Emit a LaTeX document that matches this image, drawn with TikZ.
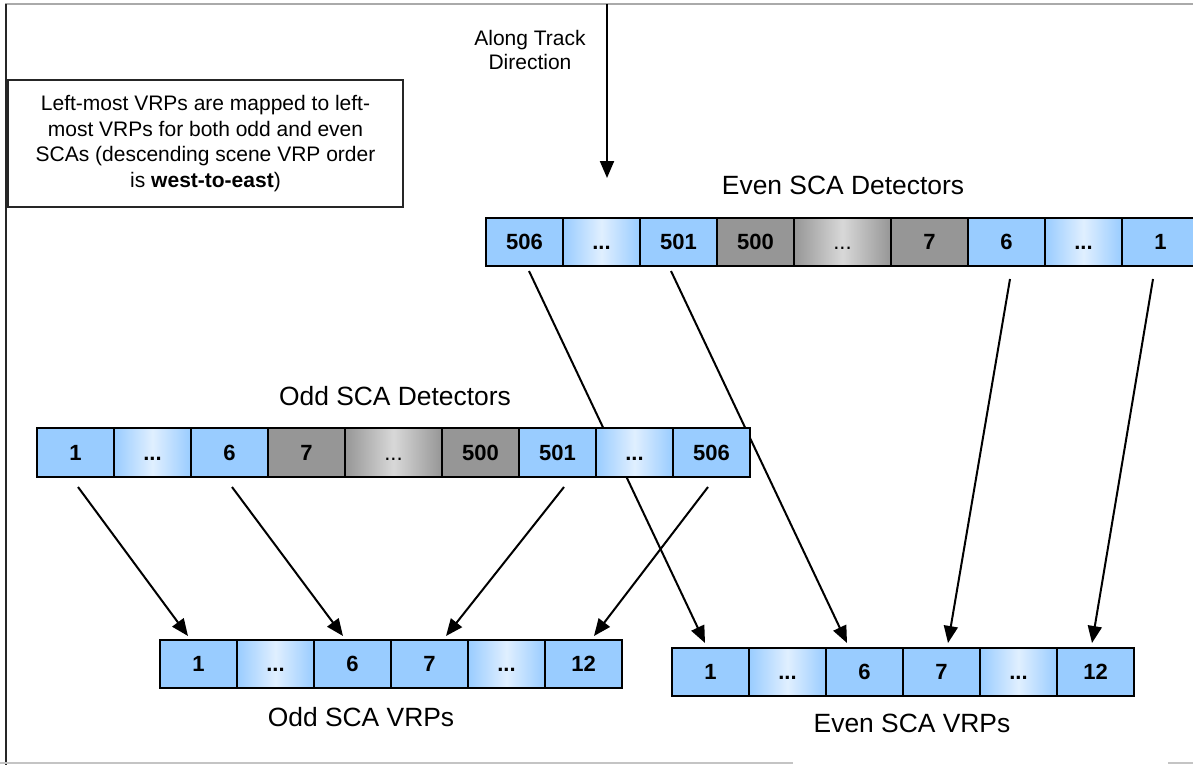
\documentclass[tikz,border=0pt]{standalone}
\usepackage{fontspec}
\setmainfont{Liberation Sans}
\usetikzlibrary{arrows.meta,calc,backgrounds}

\definecolor{cellblue}{RGB}{153,204,255}
\definecolor{cellpale}{RGB}{224,239,255}
\definecolor{cellgray}{RGB}{150,150,150}
\definecolor{cellpalegray}{RGB}{216,216,216}
\definecolor{framegray}{RGB}{170,170,170}

\tikzset{
  cell/.style={draw=black, line width=0.8pt, minimum width=38.5pt, minimum height=24pt,
    inner sep=0pt, outer sep=0pt, text height=7.9pt, text depth=0pt,
    font=\fontsize{11}{12}\selectfont\bfseries},
  widecell/.style={minimum width=48.5pt},
  bluecell/.style={fill=cellblue},
  bluefade/.style={left color=cellblue, right color=cellblue, middle color=cellpale},
  graycell/.style={fill=cellgray},
  grayfade/.style={left color=cellgray, right color=cellgray, middle color=cellpalegray},
  link/.style={line width=1pt, -{Triangle[length=8.5pt,width=7pt]}},
  title/.style={font=\fontsize{13.2}{15}\selectfont},
  note/.style={font=\fontsize{10.5}{12.75}\selectfont, align=center},
}

\begin{document}
\begin{tikzpicture}[x=0.5pt,y=-0.5pt]
\useasboundingbox (0,0) rectangle (1193,765);

% outer frame
\draw[framegray, line width=1pt] (5,4) -- (1193,4);
\draw[black!85, line width=1pt] (6,4) -- (6,765);
\draw[framegray!70, line width=1pt] (0,763) -- (793,763);
\draw[framegray!70, line width=1pt] (1168,763) -- (1193,763);

% explanatory note
\node[draw=black!85, line width=0.8pt, minimum width=197.5pt, minimum height=63.5pt,
      inner sep=0pt, note] (explain) at (205.5,143.5)
  {Left-most VRPs are mapped to left-\\most VRPs for both odd and even\\SCAs (descending scene VRP order\\is \textbf{west-to-east})};

% along-track direction
\node[note, font=\fontsize{10.5}{12}\selectfont] (along) at (530,50) {Along Track\\Direction};
\coordinate (trackstart) at (607,4);
\coordinate (trackend) at (607,178);
\draw[link] (trackstart) -- (trackend);

% even SCA detectors
\node[title] (evendetlabel) at (843,185) {Even SCA Detectors};
\node[cell,bluecell] (e506) at (524.5,242) {506};
\node[cell,bluefade] (edotsa) at (601.5,242) {...};
\node[cell,bluecell] (e501) at (678.5,242) {501};
\node[cell,graycell] (e500) at (755.5,242) {500};
\node[cell,grayfade,widecell] (edotsb) at (842.5,242) {\mdseries ...};
\node[cell,graycell] (e7) at (929.5,242) {7};
\node[cell,bluecell] (e6) at (1006.5,242) {6};
\node[cell,bluefade] (edotsc) at (1083.5,242) {...};
\node[cell,bluecell] (e1) at (1160.5,242) {1};

% odd SCA detectors
\node[title] (odddetlabel) at (395,396) {Odd SCA Detectors};
\node[cell,bluecell,minimum height=24.5pt] (o1) at (75.5,452.5) {1};
\node[cell,bluefade,minimum height=24.5pt] (odotsa) at (152.5,452.5) {...};
\node[cell,bluecell,minimum height=24.5pt] (o6) at (229.5,452.5) {6};
\node[cell,graycell,minimum height=24.5pt] (o7) at (306.5,452.5) {7};
\node[cell,grayfade,widecell,minimum height=24.5pt] (odotsb) at (393.5,452.5) {\mdseries ...};
\node[cell,graycell,minimum height=24.5pt] (o500) at (480.5,452.5) {500};
\node[cell,bluecell,minimum height=24.5pt] (o501) at (557.5,452.5) {501};
\node[cell,bluefade,minimum height=24.5pt] (odotsc) at (634.5,452.5) {...};
\node[cell,bluecell,minimum height=24.5pt] (o506) at (711.5,452.5) {506};

% odd SCA VRPs
\node[cell,bluecell] (ov1) at (198.5,664) {1};
\node[cell,bluefade] (ovdotsa) at (275.5,664) {...};
\node[cell,bluecell] (ov6) at (352.5,664) {6};
\node[cell,bluecell] (ov7) at (429.5,664) {7};
\node[cell,bluefade] (ovdotsb) at (506.5,664) {...};
\node[cell,bluecell] (ov12) at (583.5,664) {12};
\node[title] (oddvrplabel) at (361,717) {Odd SCA VRPs};

% even SCA VRPs
\node[cell,bluecell] (ev1) at (710.5,672) {1};
\node[cell,bluefade] (evdotsa) at (787.5,672) {...};
\node[cell,bluecell] (ev6) at (864.5,672) {6};
\node[cell,bluecell] (ev7) at (941.5,672) {7};
\node[cell,bluefade] (evdotsb) at (1018.5,672) {...};
\node[cell,bluecell] (ev12) at (1095.5,672) {12};
\node[title] (evenvrplabel) at (912,723) {Even SCA VRPs};

% detector-to-VRP mappings (drawn beneath the bars they cross)
\begin{scope}[on background layer]
  \draw[link] ($(o1.south)+(2.5,10)$) -- ($(ov1.north)+(-10.5,-4)$);
  \draw[link] ($(o6.south)+(2.5,10)$) -- ($(ov6.north)+(-9.5,-4)$);
  \draw[link] ($(o501.south)+(6.5,10)$) -- ($(ov7.north)+(16.5,-4)$);
  \draw[link] ($(o506.south)+(-3.5,10)$) -- ($(ov12.north)+(10.5,-4)$);
  \draw[link] ($(e506.south)+(4.5,5)$) -- ($(ev1.north)+(-5.5,-5)$);
  \draw[link] ($(e501.south)+(-7.5,5)$) -- ($(ev6.north)+(-17.5,-5)$);
  \draw[link] ($(e6.south)+(3.5,13)$) -- ($(ev7.north)+(6.5,-5)$);
  \draw[link] ($(e1.south)+(-7.5,13)$) -- ($(ev12.north)+(-3.5,-5)$);
\end{scope}
\end{tikzpicture}
\end{document}
